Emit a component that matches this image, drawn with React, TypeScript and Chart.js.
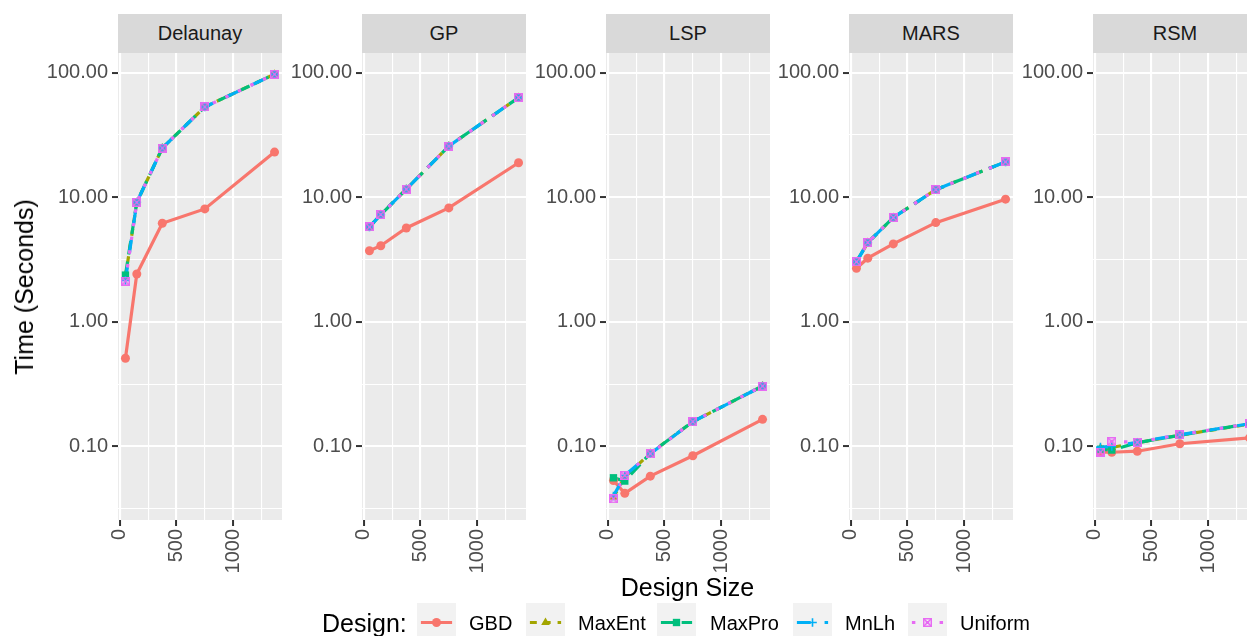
import React, { useEffect, useRef } from 'react';
import { Chart, registerables } from 'chart.js';

Chart.register(...registerables);

// ---------------- data ----------------
const designSizes = [50, 150, 375, 750, 1365];
const panelNames = ['Delaunay', 'GP', 'LSP', 'MARS', 'RSM'];
const designNames = ['GBD', 'MaxEnt', 'MaxPro', 'MnLh', 'Uniform'];

const delaunayGBD = [0.51, 2.42, 6.18, 8.05, 23.0];
const delaunayMaxEnt = [2.3, 9.1, 24.8, 53, 97];
const delaunayMaxPro = [2.37, 9.1, 24.8, 53, 97];
const delaunayMnLh = [2.15, 9.1, 24.8, 53, 97];
const delaunayUniform = [2.12, 9.1, 24.8, 53, 97];

const gpGBD = [3.72, 4.08, 5.66, 8.2, 18.9];
const gpMaxEnt = [5.77, 7.25, 11.6, 25.7, 63];
const gpMaxPro = [5.77, 7.25, 11.6, 25.7, 63];
const gpMnLh = [5.77, 7.25, 11.6, 25.7, 63];
const gpUniform = [5.77, 7.25, 11.6, 25.7, 63];

const lspGBD = [0.0533, 0.042, 0.0577, 0.0841, 0.165];
const lspMaxEnt = [0.039, 0.057, 0.088, 0.158, 0.305];
const lspMaxPro = [0.056, 0.0527, 0.088, 0.158, 0.305];
const lspMnLh = [0.04, 0.0585, 0.0873, 0.158, 0.305];
const lspUniform = [0.038, 0.0585, 0.0873, 0.158, 0.305];

const marsGBD = [2.69, 3.24, 4.22, 6.25, 9.64];
const marsMaxEnt = [3.03, 4.32, 6.86, 11.5, 19.2];
const marsMaxPro = [3.03, 4.32, 6.86, 11.5, 19.2];
const marsMnLh = [3.03, 4.32, 6.86, 11.5, 19.2];
const marsUniform = [3.03, 4.32, 6.86, 11.5, 19.2];

const rsmGBD = [0.09, 0.0898, 0.0915, 0.105, 0.117];
const rsmMaxEnt = [0.097, 0.098, 0.107, 0.123, 0.151];
const rsmMaxPro = [0.095, 0.0935, 0.107, 0.123, 0.152];
const rsmMnLh = [0.0986, 0.1, 0.108, 0.124, 0.152];
const rsmUniform = [0.09, 0.1096, 0.108, 0.124, 0.152];

const xMajorTicks = [0, 500, 1000];
const xMinorTicks = [250, 750, 1250];
const yMajorTicks = [0.1, 1, 10, 100];
const yTickLabels = ['0.10', '1.00', '10.00', '100.00'];

const panelSeries = [
  [delaunayGBD, delaunayMaxEnt, delaunayMaxPro, delaunayMnLh, delaunayUniform],
  [gpGBD, gpMaxEnt, gpMaxPro, gpMnLh, gpUniform],
  [lspGBD, lspMaxEnt, lspMaxPro, lspMnLh, lspUniform],
  [marsGBD, marsMaxEnt, marsMaxPro, marsMnLh, marsUniform],
  [rsmGBD, rsmMaxEnt, rsmMaxPro, rsmMnLh, rsmUniform],
];

// ---------------- style / layout ----------------
const FONT = "'Liberation Sans', Arial, Helvetica, sans-serif";
const designColors = ['#F8766D', '#A3A500', '#00BF7D', '#00B0F6', '#E76BF3'];
const U = 3.46;
const designDashes = [[], [2 * U, 2 * U], [4 * U, 2 * U], [4 * U, 4 * U], [1 * U, 3 * U]];
const LINE_W = 3.2;

const PANEL_LEFTS = [118, 362, 606, 849, 1093];
const PANEL_W = 164;
const PANEL_TOP = 53;
const PANEL_H = 467;
const STRIP_TOP = 14;
const STRIP_H = 39;
const YAXIS_W = 90;
const XAXIS_H = 60;
const PAD_TOP = 20;
const PAD_RIGHT = 12;

// ggplot-like 5% expansion
const allVals = panelSeries.flat(2);
const logMin = Math.log10(Math.min(...allVals));
const logMax = Math.log10(Math.max(...allVals));
const logExp = (logMax - logMin) * 0.05;
const Y_MIN = Math.pow(10, logMin - logExp);
const Y_MAX = Math.pow(10, logMax + logExp);
const xLo = Math.min(...designSizes);
const xHi = Math.max(...designSizes);
const X_MIN = xLo - (xHi - xLo) * 0.05;
const X_MAX = xHi + (xHi - xLo) * 0.05;

const yMinorTicks: number[] = [];
for (let i = 0; i < yMajorTicks.length - 1; i++) yMinorTicks.push(Math.sqrt(yMajorTicks[i] * yMajorTicks[i + 1]));
yMinorTicks.unshift(yMajorTicks[0] / Math.sqrt(10));
const yAllTicks = [...yMajorTicks, ...yMinorTicks].filter((v) => v >= Y_MIN && v <= Y_MAX).sort((a, b) => a - b);
const xAllTicks = [...xMajorTicks, ...xMinorTicks].filter((v) => v >= X_MIN && v <= X_MAX).sort((a, b) => a - b);

const isMajor = (arr: number[], v: any) => typeof v === 'number' && arr.some((m) => Math.abs(m - v) < 1e-9);

let squareCrossCanvas: HTMLCanvasElement | null = null;
function getSquareCross() {
  if (squareCrossCanvas) return squareCrossCanvas;
  const size = 9;
  const lw = 1.5;
  const c = document.createElement('canvas');
  c.width = size;
  c.height = size;
  const ctx = c.getContext('2d')!;
  ctx.strokeStyle = designColors[4];
  ctx.lineWidth = lw;
  const h = lw / 2;
  ctx.strokeRect(h, h, size - lw, size - lw);
  ctx.beginPath();
  ctx.moveTo(h, h);
  ctx.lineTo(size - h, size - h);
  ctx.moveTo(size - h, h);
  ctx.lineTo(h, size - h);
  ctx.stroke();
  squareCrossCanvas = c;
  return c;
}

const pointStyles: any[] = ['circle', 'triangle', 'rect', 'cross', null];
const pointRadii = [4.5, 5, 5.2, 4.3, 4];

const panelBg = {
  id: 'panelBg',
  beforeDraw(chart: any) {
    const { ctx, chartArea: a } = chart;
    ctx.save();
    ctx.fillStyle = '#EBEBEB';
    ctx.fillRect(a.left, a.top, a.right - a.left, a.bottom - a.top);
    ctx.restore();
  },
};

function buildConfig(panelIdx: number): any {
  const series = panelSeries[panelIdx];
  const lineSets = series.map((vals, d) => ({
    data: designSizes.map((x, i) => ({ x, y: vals[i] })),
    borderColor: designColors[d],
    backgroundColor: designColors[d],
    borderWidth: LINE_W,
    borderDash: designDashes[d],
    borderCapStyle: 'butt',
    pointRadius: 0,
    pointHoverRadius: 0,
    fill: false,
    tension: 0,
    order: 100 - d,
  }));
  const pointSets = series.map((vals, d) => ({
    data: designSizes.map((x, i) => ({ x, y: vals[i] })),
    showLine: false,
    pointStyle: d === 4 ? getSquareCross() : pointStyles[d],
    pointRadius: pointRadii[d],
    pointHoverRadius: pointRadii[d],
    pointBackgroundColor: designColors[d],
    pointBorderColor: designColors[d],
    pointBorderWidth: d === 3 ? 1.6 : 0,
    order: 50 - d,
  }));
  const tickFont = { family: FONT, size: 20 };
  return {
    type: 'line',
    data: { datasets: [...lineSets, ...pointSets] },
    options: {
      animation: false,
      responsive: false,
      devicePixelRatio: 1,
      events: [],
      layout: { padding: { top: PAD_TOP, right: PAD_RIGHT, left: 0, bottom: 0 } },
      plugins: { legend: { display: false }, tooltip: { enabled: false } },
      scales: {
        x: {
          type: 'linear',
          bounds: 'data',
          min: X_MIN,
          max: X_MAX,
          afterBuildTicks: (s: any) => {
            s.ticks = xAllTicks.map((v) => ({ value: v }));
          },
          afterFit: (s: any) => {
            s.height = XAXIS_H;
          },
          ticks: {
            autoSkip: false,
            minRotation: 90,
            maxRotation: 90,
            padding: 3,
            color: '#4D4D4D',
            font: tickFont,
            callback: (v: any) => (isMajor(xMajorTicks, v) ? String(v) : ''),
          },
          grid: {
            color: '#FFFFFF',
            lineWidth: (c: any) => (isMajor(xMajorTicks, c.tick && c.tick.value) ? 2.1 : 1.1),
            drawTicks: true,
            tickLength: 6,
            tickWidth: 2,
            tickColor: (c: any) => (isMajor(xMajorTicks, c.tick && c.tick.value) ? '#333333' : 'rgba(0,0,0,0)'),
          },
          border: { display: false },
        },
        y: {
          type: 'logarithmic',
          bounds: 'data',
          min: Y_MIN,
          max: Y_MAX,
          afterBuildTicks: (s: any) => {
            s.ticks = yAllTicks.map((v) => ({ value: v }));
          },
          afterFit: (s: any) => {
            s.width = YAXIS_W;
          },
          ticks: {
            autoSkip: false,
            padding: 4,
            color: '#4D4D4D',
            font: tickFont,
            callback: (v: any) => {
              const idx = yMajorTicks.findIndex((m) => Math.abs(m - v) < 1e-9);
              return idx >= 0 ? yTickLabels[idx] : '';
            },
          },
          grid: {
            color: '#FFFFFF',
            lineWidth: (c: any) => (isMajor(yMajorTicks, c.tick && c.tick.value) ? 2.1 : 1.1),
            drawTicks: true,
            tickLength: 6,
            tickWidth: 2,
            tickColor: (c: any) => (isMajor(yMajorTicks, c.tick && c.tick.value) ? '#333333' : 'rgba(0,0,0,0)'),
          },
          border: { display: false },
        },
      },
    },
    plugins: [panelBg],
  };
}

function Panel({ index }: { index: number }) {
  const ref = useRef<HTMLCanvasElement>(null);
  const w = YAXIS_W + PANEL_W + PAD_RIGHT;
  const h = PAD_TOP + PANEL_H + XAXIS_H;
  useEffect(() => {
    const chart = new Chart(ref.current as HTMLCanvasElement, buildConfig(index));
    return () => chart.destroy();
  }, [index]);
  return (
    <canvas
      ref={ref}
      width={w}
      height={h}
      style={{ position: 'absolute', left: PANEL_LEFTS[index] - YAXIS_W, top: PANEL_TOP - PAD_TOP, width: w, height: h }}
    />
  );
}

// ---------------- legend ----------------
const legendKeyX = [417, 526, 657, 793, 908];
const legendTextX = [469, 578, 710, 845, 960];
const KEY = 39;
const LEG_TOP = 598;
const KEY_TOP = 603;

function drawMarker(ctx: CanvasRenderingContext2D, d: number, x: number, y: number) {
  const col = designColors[d];
  ctx.save();
  ctx.fillStyle = col;
  ctx.strokeStyle = col;
  ctx.setLineDash([]);
  if (d === 0) {
    ctx.beginPath();
    ctx.arc(x, y, pointRadii[0], 0, Math.PI * 2);
    ctx.fill();
  } else if (d === 1) {
    const r = pointRadii[1];
    ctx.beginPath();
    ctx.moveTo(x, y - r);
    ctx.lineTo(x + r * 0.866, y + r / 2);
    ctx.lineTo(x - r * 0.866, y + r / 2);
    ctx.closePath();
    ctx.fill();
  } else if (d === 2) {
    const s = pointRadii[2] * Math.SQRT1_2;
    ctx.fillRect(x - s, y - s, 2 * s, 2 * s);
  } else if (d === 3) {
    const r = pointRadii[3];
    ctx.lineWidth = 1.6;
    ctx.beginPath();
    ctx.moveTo(x - r, y);
    ctx.lineTo(x + r, y);
    ctx.moveTo(x, y - r);
    ctx.lineTo(x, y + r);
    ctx.stroke();
  } else {
    const img = getSquareCross();
    ctx.drawImage(img, x - img.width / 2, y - img.height / 2);
  }
  ctx.restore();
}

function Legend() {
  const ref = useRef<HTMLCanvasElement>(null);
  useEffect(() => {
    const cv = ref.current!;
    const ctx = cv.getContext('2d')!;
    ctx.clearRect(0, 0, cv.width, cv.height);
    designNames.forEach((_, d) => {
      const x = legendKeyX[d];
      const y = KEY_TOP - LEG_TOP;
      ctx.fillStyle = '#F2F2F2';
      ctx.fillRect(x, y, KEY, KEY);
      const cy = y + KEY / 2;
      ctx.save();
      ctx.strokeStyle = designColors[d];
      ctx.lineWidth = LINE_W;
      ctx.lineCap = 'butt';
      ctx.setLineDash(designDashes[d]);
      ctx.beginPath();
      ctx.moveTo(x + KEY * 0.1, cy);
      ctx.lineTo(x + KEY * 0.9, cy);
      ctx.stroke();
      ctx.restore();
      drawMarker(ctx, d, x + KEY / 2, cy);
    });
  }, []);
  return (
    <>
      <canvas ref={ref} width={1247} height={60} style={{ position: 'absolute', left: 0, top: LEG_TOP, width: 1247, height: 60 }} />
      <div style={{ position: 'absolute', left: 322, top: 608, height: 30, lineHeight: '30px', fontSize: 25, color: '#000', whiteSpace: 'nowrap' }}>
        Design:
      </div>
      {designNames.map((n, d) => (
        <div
          key={n}
          style={{ position: 'absolute', left: legendTextX[d], top: 608, height: 30, lineHeight: '30px', fontSize: 20, color: '#000', whiteSpace: 'nowrap' }}
        >
          {n}
        </div>
      ))}
    </>
  );
}

export default function App() {
  const plotCenterX = (PANEL_LEFTS[0] + PANEL_LEFTS[PANEL_LEFTS.length - 1] + PANEL_W) / 2;
  return (
    <div
      style={{
        position: 'absolute',
        left: 0,
        top: 0,
        width: 1247,
        height: 636,
        overflow: 'hidden',
        background: '#FFFFFF',
        fontFamily: FONT,
      }}
    >
      {panelNames.map((name, i) => (
        <React.Fragment key={name}>
          <div
            style={{
              position: 'absolute',
              left: PANEL_LEFTS[i],
              top: STRIP_TOP,
              width: PANEL_W,
              height: STRIP_H,
              background: '#D9D9D9',
              color: '#1A1A1A',
              fontSize: 20,
              lineHeight: STRIP_H + 'px',
              textAlign: 'center',
              whiteSpace: 'nowrap',
            }}
          >
            {name}
          </div>
          <Panel index={i} />
        </React.Fragment>
      ))}
      <div
        style={{
          position: 'absolute',
          left: 24,
          top: PANEL_TOP + PANEL_H / 2,
          transform: 'translate(-50%, -50%) rotate(-90deg)',
          fontSize: 25,
          color: '#000',
          whiteSpace: 'nowrap',
          lineHeight: '30px',
        }}
      >
        Time (Seconds)
      </div>
      <div
        style={{
          position: 'absolute',
          left: plotCenterX,
          top: 587,
          transform: 'translate(-50%, -50%)',
          fontSize: 25,
          color: '#000',
          whiteSpace: 'nowrap',
          lineHeight: '30px',
        }}
      >
        Design Size
      </div>
      <Legend />
    </div>
  );
}
